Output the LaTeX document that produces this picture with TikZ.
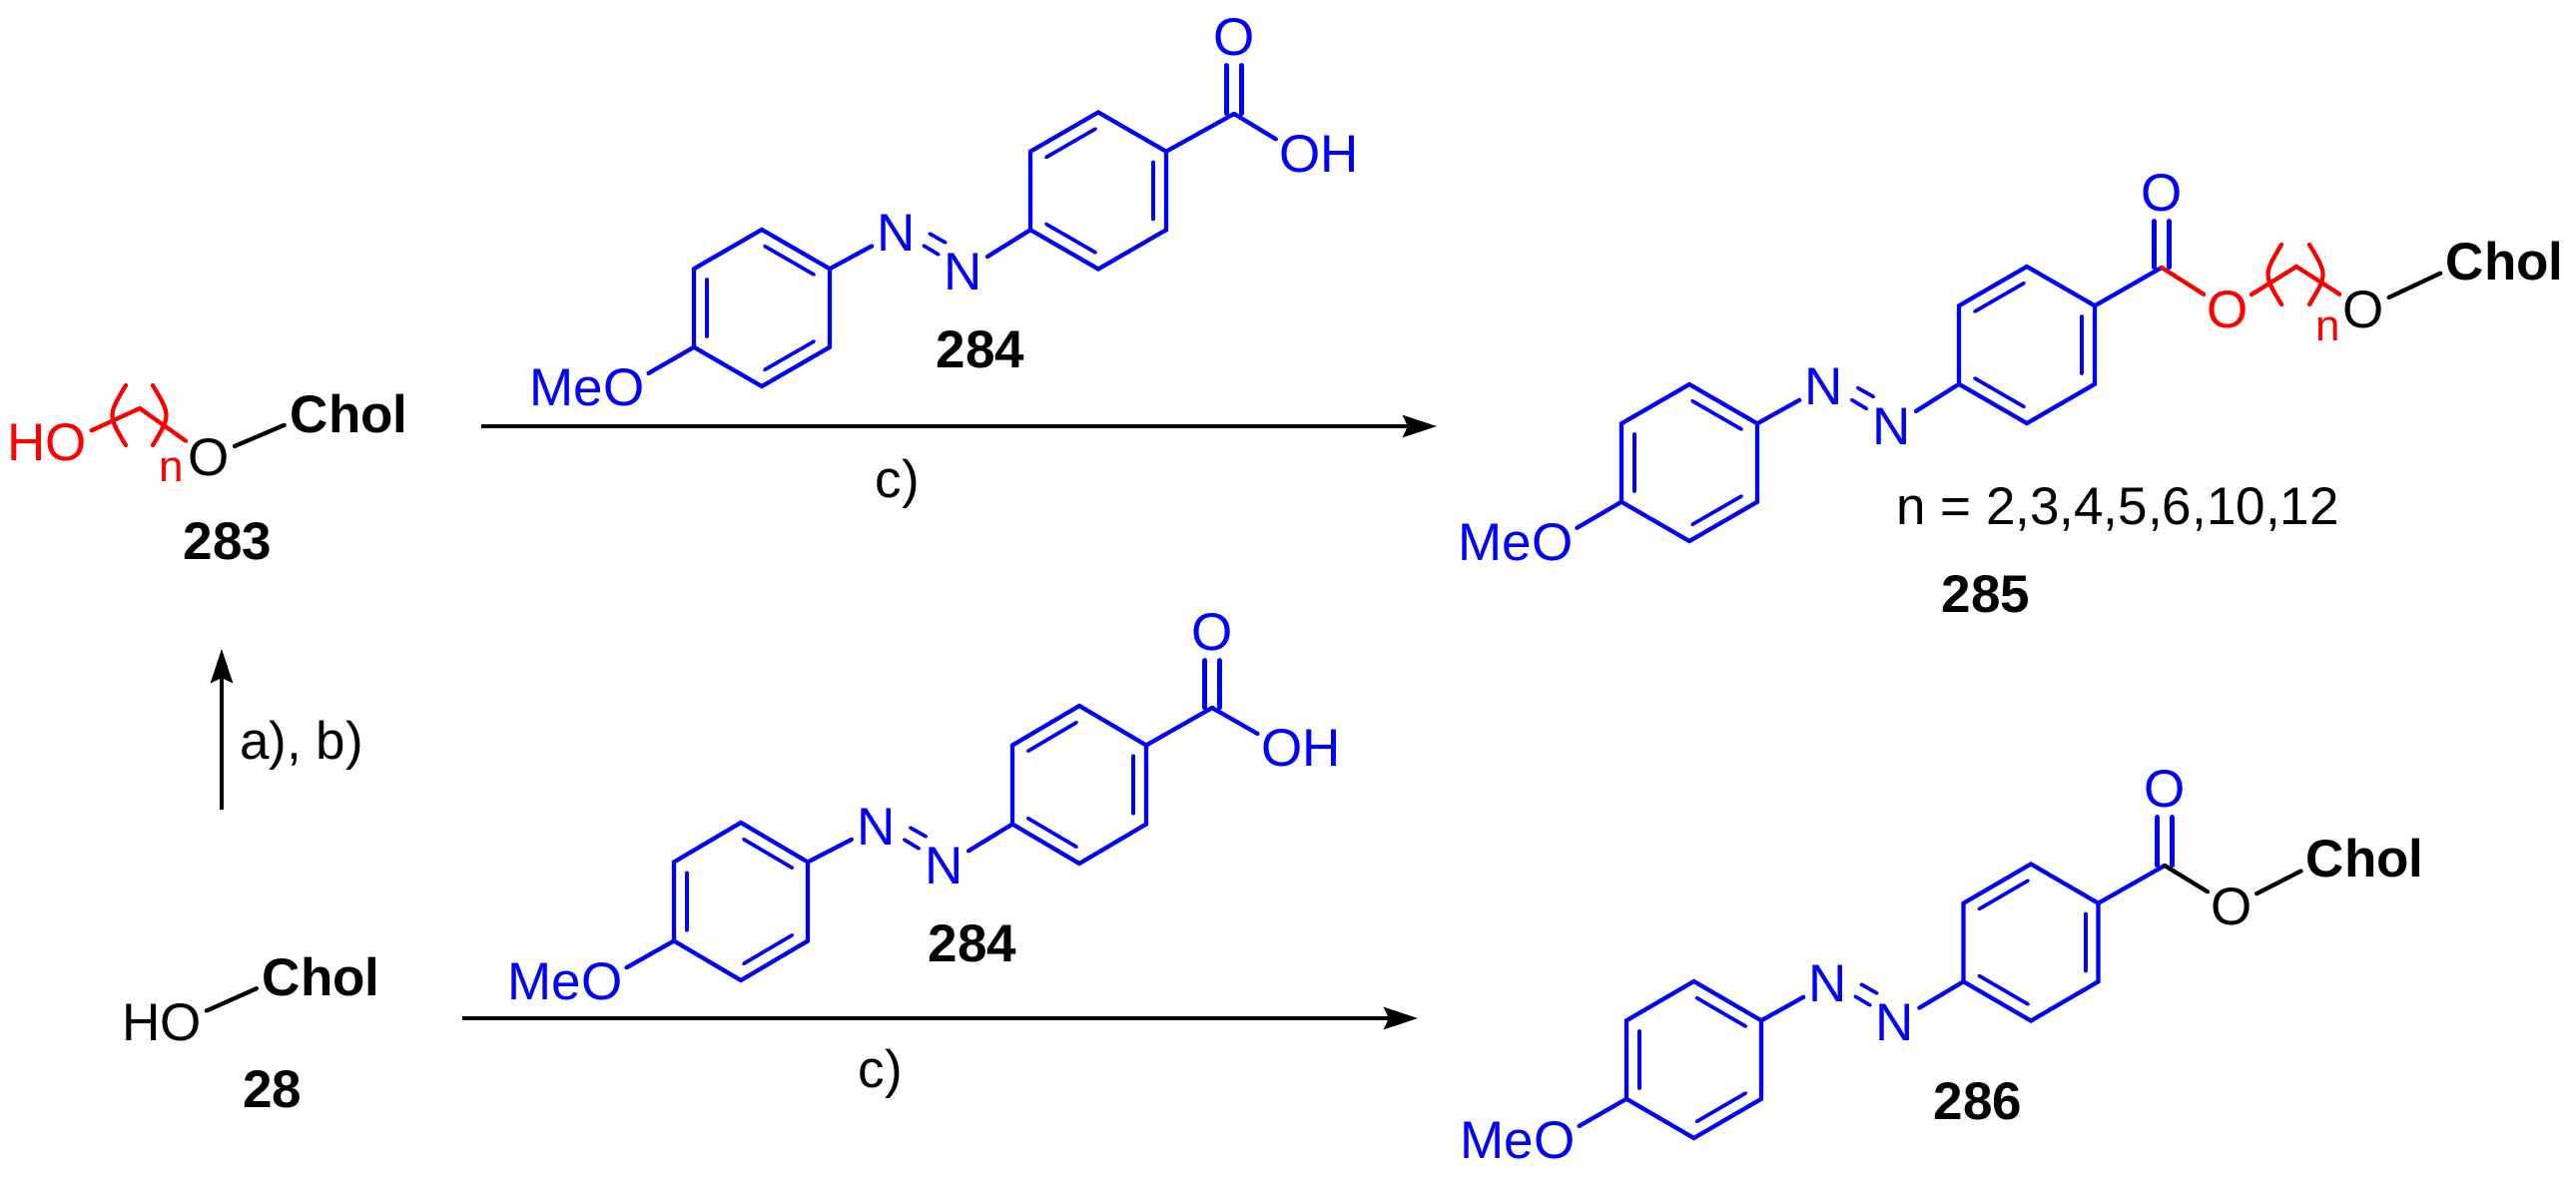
\documentclass[tikz,border=0pt]{standalone}
\usepackage{fontspec}
\setmainfont{Liberation Sans}
\usetikzlibrary{calc,arrows.meta}
\definecolor{molblue}{RGB}{0,0,255}
\definecolor{molred}{RGB}{255,0,0}
\tikzset{
  atom/.style={circle,inner sep=0pt,minimum size=56pt,font=\fontsize{53}{60}\selectfont},
  cholatom/.style={atom,minimum size=50pt,font=\fontsize{53}{60}\selectfont\bfseries},
  plain/.style={inner sep=0pt,font=\fontsize{53}{60}\selectfont},
  cpd/.style={inner sep=0pt,font=\fontsize{53}{60}\selectfont\bfseries},
  idx/.style={inner sep=0pt,font=\fontsize{44}{50}\selectfont,text=molred},
  bond/.style={line width=4.2pt,line cap=round,line join=miter},
  innerbond/.style={line width=3.6pt,line cap=round},
  rxn/.style={line width=3.8pt,-{Stealth[length=34pt,width=22pt,inset=5pt]}},
}
% ring: #1 prefix, #2 centre, #3 half width, #4 radius
\newcommand{\benz}[4]{%
  \coordinate (#1c) at (#2);
  \coordinate (#1v1) at ($(#1c)+(0,-#4)$);
  \coordinate (#1v2) at ($(#1c)+(#3,-#4/2)$);
  \coordinate (#1v3) at ($(#1c)+(#3,#4/2)$);
  \coordinate (#1v4) at ($(#1c)+(0,#4)$);
  \coordinate (#1v5) at ($(#1c)+(-#3,#4/2)$);
  \coordinate (#1v6) at ($(#1c)+(-#3,-#4/2)$);
  \draw[bond,molblue] (#1v1)--(#1v2)--(#1v3)--(#1v4)--(#1v5)--(#1v6)--cycle;
}
\newcommand{\inb}[3]{%
  \draw[innerbond,molblue] ($(#1v#2)!.05!(#1v#3)!.19!(#1c)$) -- ($(#1v#3)!.05!(#1v#2)!.19!(#1c)$);
}
% #1 prefix; #2 ring1 centre; #3 ring2 centre; #4 half width; #5 radius; #6 N1; #7 N2; #8 carbonyl C; #9 carbonyl O
% expects node (#1meo) to exist
\newcommand{\azomol}[9]{%
  \benz{#1a}{#2}{#4}{#5}
  \benz{#1b}{#3}{#4}{#5}
  \inb{#1a}{1}{2}\inb{#1a}{3}{4}\inb{#1a}{5}{6}
  \inb{#1b}{6}{1}\inb{#1b}{2}{3}\inb{#1b}{4}{5}
  \node[atom,text=molblue] (#1n1) at (#6) {N};
  \node[atom,text=molblue] (#1n2) at (#7) {N};
  \node[atom,text=molblue] (#1ot) at (#9) {O};
  \coordinate (#1co) at (#8);
  \coordinate (#1m) at ($(#1n1)!.5!(#1n2)$);
  \draw[bond,molblue] (#1av2) -- (#1n1);
  \draw[bond,molblue] (#1n2) -- (#1bv5);
  \draw[bond,molblue] (#1bv2) -- (#1co);
  \draw[bond,molblue] (#1av5) -- (#1meo);
  \draw[innerbond,molblue] ($(#1m)+(-.5,-18.5)$) -- ($(#1m)+(15.5,-9.5)$);
  \draw[innerbond,molblue] ($(#1m)+(-6.5,-6.5)$) -- ($(#1m)+(8.5,2.5)$);
  \draw[bond,molblue] ($(#1ot.south)+(-7.5,0)$) -- ($(#1co)+(-7.5,0)$);
  \draw[bond,molblue] ($(#1ot.south)+(7.5,0)$) -- ($(#1co)+(7.5,0)$);
}
\newcommand{\brackets}[4]{% #1 x left tip, #2 x right tip, #3 mid y, #4 prefix
  \coordinate (#4l1) at (#1+9,#3-30);
  \coordinate (#4lc) at (#1-9,#3);
  \coordinate (#4l2) at (#1+9,#3+30);
  \coordinate (#4r1) at (#2-9,#3-30);
  \coordinate (#4rc) at (#2+9,#3);
  \coordinate (#4r2) at (#2-9,#3+30);
  \draw[bond,molred] (#4l1) .. controls (#4lc) .. (#4l2);
  \draw[bond,molred] (#4r1) .. controls (#4rc) .. (#4r2);
}
\begin{document}
\begin{tikzpicture}[x=1pt,y=-1pt]
\useasboundingbox (0,0) rectangle (2580,1178);

% ---- 283 ----
\node[atom,text=molred] (hoa) at (66,443) {\llap{H}O};
\coordinate (pa) at (140,409);
\node[atom] (oa) at (209,458) {O};
\node[cholatom] (cha) at (310,415) {C\rlap{hol}};
\draw[bond,molred] (hoa) -- (pa) -- (oa);
\draw[bond] (oa) -- (cha);
\brackets{117}{162}{416}{ba}
\node[idx] (na) at (172,471) {n};
\node[cpd] (l283) at (228,542) {283};

% ---- 284 top ----
\node[atom,text=molblue] (tmeo) at (625,388) {\llap{Me}O};
\azomol{t}{763,308.5}{1100,191}{68}{78.5}{898,233}{965,272}{1236,114}{1236,37}
\node[atom,text=molblue] (toh) at (1302,154) {O\rlap{H}};
\draw[bond,molblue] (tco) -- (toh);
\node[cpd] (l284t) at (982,350) {284};

% ---- arrow top ----
\coordinate (a1s) at (482,427);
\coordinate (a1e) at (1439,427);
\draw[rxn] (a1s) -- (a1e);
\node[plain] (c1) at (899,485) {c)};

% ---- 285 ----
\node[atom,text=molblue] (umeo) at (1555,543) {\llap{Me}O};
\azomol{u}{1692,463.5}{2030,345.5}{68}{78.5}{1827,387}{1895,427}{2165,268}{2165,193}
\node[atom,text=molred] (uoe) at (2231,310) {O};
\coordinate (up) at (2300,267);
\node[atom] (uoc) at (2367,310) {O};
\node[cholatom] (uch) at (2469,262) {C\rlap{hol}};
\draw[bond,molred] (uco) -- (uoe);
\draw[bond,molred] (uoe) -- (up) -- (uoc);
\draw[bond] (uoc) -- (uch);
\brackets{2276}{2322}{275}{bu}
\node[idx] (nu) at (2332,330) {n};
\node[plain] (nvals) at (2121,510) {n = 2,3,4,5,6,10,12};
\node[cpd] (l285) at (1989,595) {285};

% ---- vertical arrow ----
\coordinate (a2s) at (222,811);
\coordinate (a2e) at (222,650);
\draw[rxn] (a2s) -- (a2e);
\node[plain] (ab) at (302,747) {a), b)};

% ---- 28 ----
\node[atom] (ho) at (181,1024) {\llap{H}O};
\node[cholatom] (chb) at (282,979) {C\rlap{hol}};
\draw[bond] (ho) -- (chb);
\node[cpd] (l28) at (273,1091) {28};

% ---- 284 bottom ----
\node[atom,text=molblue] (lmeo) at (603,983) {\llap{Me}O};
\azomol{l}{742,903}{1081,786}{67}{79}{878,828}{946,867}{1214,709}{1214,633}
\node[atom,text=molblue] (loh) at (1284,749) {O\rlap{H}};
\draw[bond,molblue] (lco) -- (loh);
\node[cpd] (l284b) at (974,945) {284};

% ---- arrow bottom ----
\coordinate (a3s) at (463,1020);
\coordinate (a3e) at (1420,1020);
\draw[rxn] (a3s) -- (a3e);
\node[plain] (c2) at (882,1076) {c)};

% ---- 286 ----
\node[atom,text=molblue] (vmeo) at (1557,1142) {\llap{Me}O};
\azomol{v}{1696.5,1061.5}{2034,944}{67.5}{78.5}{1831,985}{1898,1024}{2168,867}{2168,790}
\node[atom] (voe) at (2235,908) {O};
\node[cholatom] (vch) at (2329,860) {C\rlap{hol}};
\draw[bond] (vco) -- (voe);
\draw[bond] (voe) -- (vch);
\node[cpd] (l286) at (1981,1103) {286};
\end{tikzpicture}
\end{document}
